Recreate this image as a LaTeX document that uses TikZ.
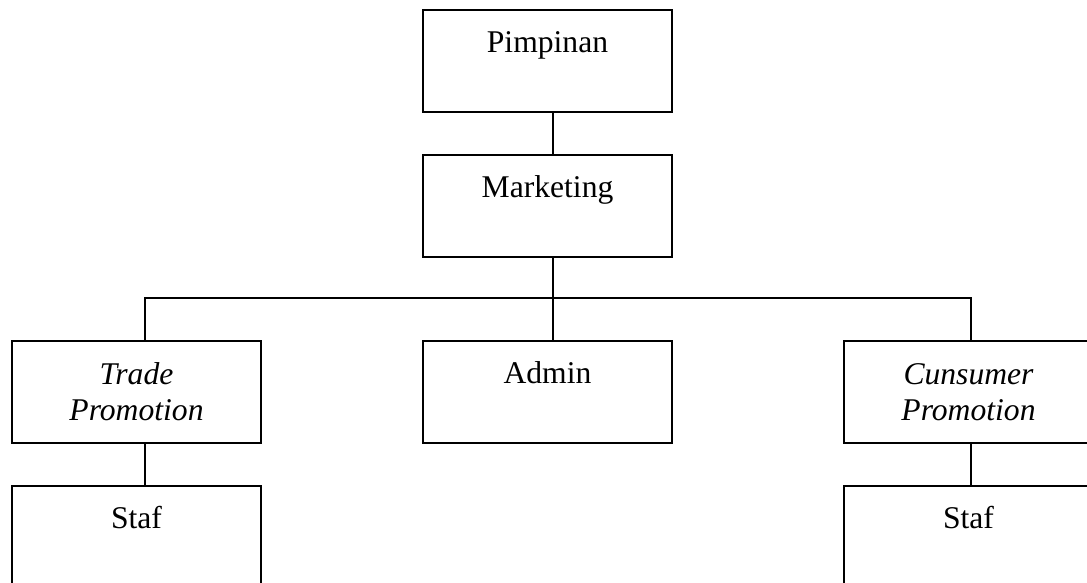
\documentclass[tikz,border=0pt]{standalone}
\usepackage{fontspec}
\setmainfont{Liberation Serif}
\usepackage{tikz}
\usetikzlibrary{positioning, calc}

\begin{document}
\begin{tikzpicture}[x=0.02cm, y=-0.02cm, line width=1.1pt,
  unit/.style={draw, rectangle, inner sep=0pt, minimum width=4.98cm,
    text height=0.84cm, text depth=1.2cm, font=\fontsize{18}{20.5}\selectfont},
  unitc/.style={draw, rectangle, inner sep=0pt, minimum width=4.98cm,
    minimum height=2.04cm, align=center, font=\fontsize{18}{20.5}\itshape\selectfont}]
\path[use as bounding box, clip] (0,0) rectangle (1087,582);

% Top boxes
\node[unit] (pim) at (547.5,61) {Pimpinan};
\node[unit] (mkt) at (547.5,206) {Marketing};

% Middle row
\node[unitc] (trade) at (136.5,392) {Trade\\Promotion};
\node[unit] (admin) at (547.5,392) {Admin};
\node[unitc] (cons) at (968.5,392) {Cunsumer\\Promotion};

% Bottom row
\node[unit] (staf1) at (136.5,537) {Staf};
\node[unit] (staf2) at (968.5,537) {Staf};

% Lines
\coordinate (bus) at (553,298);
\draw ([xshift=0.11cm]pim.south) -- ([xshift=0.11cm]mkt.north);
\draw ([xshift=0.11cm]mkt.south) -- ([xshift=0.11cm]admin.north);
\draw ([xshift=0.17cm]trade.north) |- (bus) -| ([xshift=0.05cm]cons.north);
\draw ([xshift=0.17cm]trade.south) -- ([xshift=0.17cm]staf1.north);
\draw ([xshift=0.05cm]cons.south) -- ([xshift=0.05cm]staf2.north);
\end{tikzpicture}
\end{document}
